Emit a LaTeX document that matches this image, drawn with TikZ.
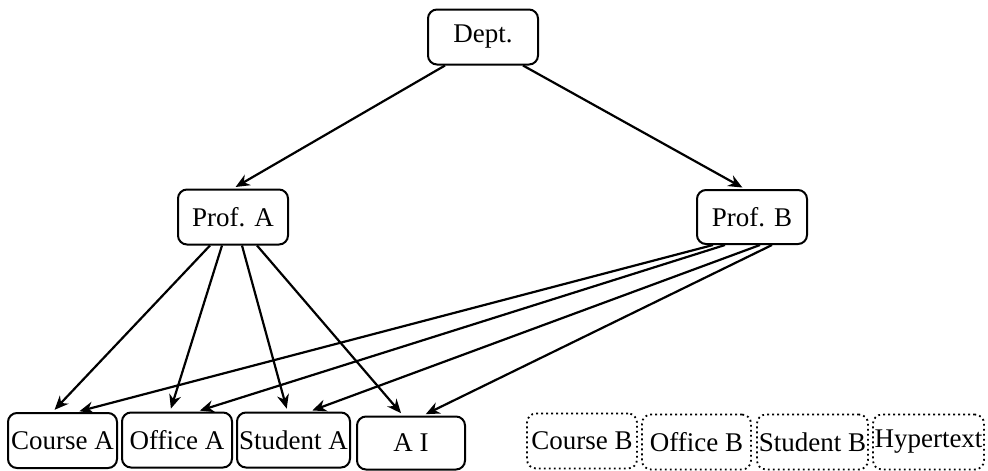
\documentclass[tikz,border=0pt]{standalone}
\usepackage{fontspec}
\setmainfont{Liberation Serif}
\usetikzlibrary{arrows.meta}
\begin{document}
\begin{tikzpicture}[x=1pt,y=-1pt,
    box/.style={draw,rounded corners=9pt,line width=2pt,minimum width=110pt,minimum height=55pt,inner sep=1pt,font=\fontsize{27}{30}\selectfont},
    ghostbox/.style={box,line width=1.8pt,dash pattern=on 1.8pt off 3.2pt},
    link/.style={line width=2.2pt,-{Stealth[length=14pt,width=12pt]},shorten >=3pt}]
    \useasboundingbox (0,0) rectangle (988,471);
    \node[box] (dept) at (483,37) {Dept.};
    \node[box] (profA) at (233,217) {Prof. A};
    \node[box,minimum height=54pt] (profB) at (752,217) {Prof. B};
    \node[box,minimum width=109pt] (courseA) at (62.5,440.5) {Course A};
    \node[box] (officeA) at (177,440) {Office A};
    \node[box,minimum width=113pt] (studentA) at (293.5,440) {Student A};
    \node[box,minimum width=108pt,minimum height=53pt] (ai) at (411,443) {A I};
    \node[ghostbox] (courseB) at (582,441) {Course B};
    \node[ghostbox,minimum width=109pt] (officeB) at (696.5,442) {Office B};
    \node[ghostbox,minimum width=111pt] (studentB) at (812.5,442) {Student B};
    \node[ghostbox,minimum width=111pt] (hyper) at (928.5,442) {Hypertext};
    \draw[link] ([xshift=-38pt]dept.south) -- (profA.north);
    \draw[link] ([xshift=40pt]dept.south) -- ([xshift=-7pt]profB.north);
    \foreach \t/\a/\b in {courseA/-23/-10, officeA/-11/-7, studentA/9/-6, ai/24/-8}
        \draw[link] ([xshift=\a pt]profA.south) -- ([xshift=\b pt]\t.north);
    \foreach \t/\a/\b in {courseA/-39/14, officeA/-27/20, studentA/8/16, ai/20/12}
        \draw[link] ([xshift=\a pt]profB.south) -- ([xshift=\b pt]\t.north);
\end{tikzpicture}
\end{document}
